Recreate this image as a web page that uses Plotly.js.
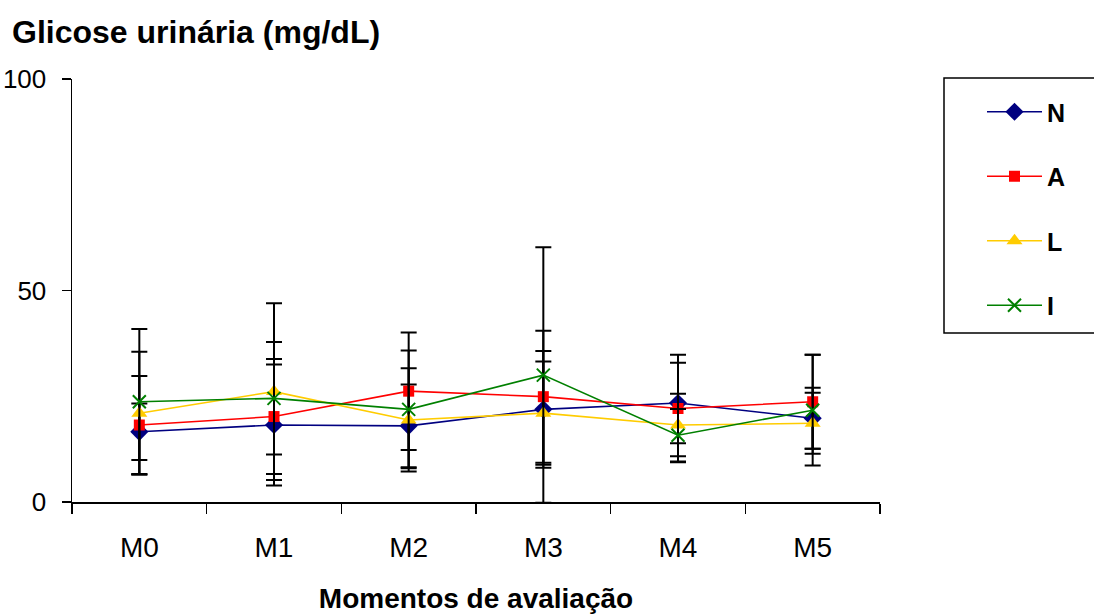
<!DOCTYPE html>
<html>
<head>
<meta charset="utf-8">
<script src="https://cdn.plot.ly/plotly-3.0.1.min.js"></script>
<style>html,body{margin:0;padding:0;background:#fff;}#chart{width:1094px;height:615px;}</style>
</head>
<body>
<div id="chart"></div>
<script>
const categories = ["M0", "M1", "M2", "M3", "M4", "M5"];
const seriesNames = ["N", "A", "L", "I"];
const meanN = [16.6, 18.2, 18.0, 21.9, 23.4, 19.8];
const sdN   = [6.7, 14.3, 9.8, 13.8, 9.5, 7.2];
const meanA = [18.2, 20.2, 26.2, 24.9, 22.1, 23.7];
const sdA   = [11.6, 13.6, 13.9, 15.6, 12.7, 11.1];
const meanL = [21.0, 26.1, 19.4, 21.0, 18.2, 18.6];
const sdL   = [14.5, 20.9, 12.2, 12.2, 7.4, 7.2];
const meanI = [23.7, 24.5, 21.9, 30.0, 15.8, 21.7];
const sdI   = [17.2, 13.3, 13.9, 30.2, 6.2, 13.1];
const yTicks = [0, 50, 100];

const FONT = "Liberation Sans, Arial, sans-serif";
const styles = [
  {color: "#000080", symbol: "diamond", size: 14, lw: 0},
  {color: "#FF0000", symbol: "square", size: 11, lw: 0},
  {color: "#FFCC00", symbol: "triangle-up", size: 14, lw: 0},
  {color: "#008000", symbol: "x-thin-open", size: 13, lw: 2}
];
const means = [meanN, meanA, meanL, meanI];
const sds = [sdN, sdA, sdL, sdI];

const traces = seriesNames.map((name, i) => ({
  type: "scatter",
  mode: "lines+markers",
  name: name,
  legendgroup: name,
  x: categories,
  y: means[i],
  line: {color: styles[i].color, width: 1.6},
  marker: {color: styles[i].color, symbol: styles[i].symbol, size: styles[i].size,
           line: {color: styles[i].color, width: styles[i].lw}},
  error_y: {type: "data", array: sds[i], visible: true, color: "#000000", thickness: 2, width: 8}
}));

const layout = {
  width: 1094, height: 615,
  paper_bgcolor: "#ffffff", plot_bgcolor: "#ffffff",
  margin: {l: 72, r: 214, t: 79, b: 113},
  font: {family: FONT, color: "#000000", size: 22},
  title: {text: "<b>Glicose urinária (mg/dL)</b>", font: {family: FONT, size: 32, color: "#000"},
          xref: "container", yref: "container", x: 0.011, xanchor: "left", y: 0.948, yanchor: "middle"},
  xaxis: {
    type: "category", range: [-0.5, 5.5],
    showline: true, linecolor: "#000", linewidth: 1.5,
    ticks: "outside", tickson: "boundaries", ticklen: 10, tickcolor: "#000", tickwidth: 1.5,
    showgrid: false, zeroline: false,
    ticklabelstandoff: 20,
    tickfont: {family: FONT, size: 28, color: "#000"},
    title: {text: "<b>Momentos de avaliação</b>", font: {family: FONT, size: 28, color: "#000"}, standoff: 26}
  },
  yaxis: {
    range: [0, 100], tickvals: yTicks, ticktext: yTicks.map(String),
    showline: true, linecolor: "#000", linewidth: 1.5,
    ticks: "outside", ticklen: 9, tickcolor: "#000", tickwidth: 1.5,
    showgrid: false, zeroline: false,
    ticklabelstandoff: 10,
    tickfont: {family: FONT, size: 26, color: "#000"}
  },
  shapes: [{
    type: "rect", xref: "paper", yref: "paper",
    x0: (944 - 72) / 808, x1: (1110 - 72) / 808,
    y0: (502 - 333) / 423, y1: (502 - 78) / 423,
    line: {color: "#000", width: 1.5}, fillcolor: "rgba(0,0,0,0)"
  }],
  showlegend: true,
  legend: {
    x: (944 - 72) / 808, xanchor: "left", y: (502 - 89) / 423, yanchor: "top",
    borderwidth: 0, bgcolor: "rgba(0,0,0,0)",
    font: {family: FONT, size: 25, color: "#000", weight: "bold"},
    tracegroupgap: 29, indentation: 38, itemwidth: 55, entrywidth: 140,
    itemclick: false
  }
};

Plotly.newPlot("chart", traces, layout, {displayModeBar: false, staticPlot: true});
</script>
</body>
</html>
